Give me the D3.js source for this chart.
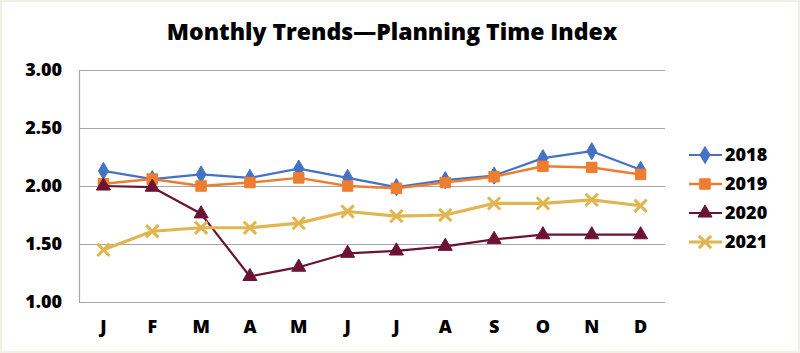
<!DOCTYPE html>
<html>
<head>
<meta charset="utf-8">
<script src="https://cdn.jsdelivr.net/npm/d3@7"></script>
<style>
  body { margin: 0; background: #fff; }
  svg { display: block; font-family: "Open Sans", sans-serif; }
</style>
</head>
<body>
<script>
const months = ["J", "F", "M", "A", "M", "J", "J", "A", "S", "O", "N", "D"];
const years = ["2018", "2019", "2020", "2021"];
const v2018 = [2.13, 2.06, 2.10, 2.07, 2.15, 2.07, 1.99, 2.05, 2.09, 2.24, 2.30, 2.14];
const v2019 = [2.02, 2.06, 2.00, 2.03, 2.07, 2.00, 1.98, 2.03, 2.08, 2.17, 2.16, 2.10];
const v2020 = [2.00, 1.99, 1.76, 1.22, 1.30, 1.42, 1.44, 1.48, 1.54, 1.58, 1.58, 1.58];
const v2021 = [1.45, 1.61, 1.64, 1.64, 1.68, 1.78, 1.74, 1.75, 1.85, 1.85, 1.88, 1.83];
const yTicks = [1.0, 1.5, 2.0, 2.5, 3.0];

const width = 800, height = 353;
const margin = { top: 70, right: 135, bottom: 51, left: 79 };

const series = [
  { name: years[0], values: v2018, color: "#4472c4", width: 2.2, sym: "diamond" },
  { name: years[1], values: v2019, color: "#ed7d31", width: 2.5, sym: "square" },
  { name: years[2], values: v2020, color: "#6b1235", width: 2.2, sym: "triangle" },
  { name: years[3], values: v2021, color: "#e0b650", width: 3.2, sym: "cross" }
];

const svg = d3.select("body").append("svg")
  .attr("width", width)
  .attr("height", height);

// faint page frame like the original
svg.append("rect")
  .attr("x", 0.5).attr("y", 0.5)
  .attr("width", width - 1).attr("height", height - 1)
  .attr("fill", "none").attr("stroke", "#f0f0e4").attr("stroke-width", 3);

svg.append("text")
  .attr("x", 392).attr("y", 40)
  .attr("text-anchor", "middle")
  .attr("font-size", 23).attr("font-weight", 800)
  .text("Monthly Trends\u2014Planning Time Index");

const x = d3.scalePoint()
  .domain(d3.range(months.length))
  .range([margin.left, width - margin.right])
  .padding(0.5);

const y = d3.scaleLinear()
  .domain([1, 3])
  .range([height - margin.bottom, margin.top]);

// gridlines
svg.append("g")
  .selectAll("line")
  .data(yTicks)
  .join("line")
  .attr("x1", margin.left).attr("x2", width - margin.right)
  .attr("y1", d => Math.round(y(d)) + 0.5).attr("y2", d => Math.round(y(d)) + 0.5)
  .attr("stroke", "#a6a6a6").attr("stroke-width", 1.2);

svg.append("line")
  .attr("x1", margin.left + 0.5).attr("x2", margin.left + 0.5)
  .attr("y1", y(3)).attr("y2", y(1))
  .attr("stroke", "#a6a6a6").attr("stroke-width", 1.2);

// y labels
svg.append("g")
  .selectAll("text")
  .data(yTicks)
  .join("text")
  .attr("x", 62).attr("y", d => y(d))
  .attr("dy", "0.35em")
  .attr("text-anchor", "end")
  .attr("font-size", 18).attr("font-weight", 800)
  .text(d => d3.format(".2f")(d));

// x labels
svg.append("g")
  .selectAll("text")
  .data(months)
  .join("text")
  .attr("x", (d, i) => x(i)).attr("y", 327)
  .attr("dy", "0.35em")
  .attr("text-anchor", "middle")
  .attr("font-size", 18).attr("font-weight", 800)
  .text(d => d);

const symbolOf = {
  diamond: d3.symbol().type(d3.symbolDiamond).size(85),
  square: d3.symbol().type(d3.symbolSquare).size(110),
  triangle: d3.symbol().type(d3.symbolTriangle).size(85),
  cross: d3.symbol().type(d3.symbolTimes).size(100)
};

function drawMarker(g, s) {
  const p = g.append("path").attr("d", symbolOf[s.sym]());
  if (s.sym === "cross") {
    p.attr("fill", "none").attr("stroke", s.color).attr("stroke-width", 3);
  } else {
    p.attr("fill", s.color).attr("stroke", s.color).attr("stroke-width", 1);
  }
}

const line = d3.line()
  .x((d, i) => x(i))
  .y(d => y(d));

series.forEach(s => {
  svg.append("path")
    .datum(s.values)
    .attr("d", line)
    .attr("fill", "none")
    .attr("stroke", s.color)
    .attr("stroke-width", s.width)
    .attr("stroke-linejoin", "round");

  s.values.forEach((v, i) => {
    const g = svg.append("g").attr("transform", `translate(${x(i)},${y(v)})`);
    drawMarker(g, s);
  });
});

// legend
const legend = svg.append("g");
series.forEach((s, i) => {
  const ly = 155 + i * 29;
  const g = legend.append("g").attr("transform", `translate(0,${ly})`);
  g.append("line")
    .attr("x1", 689).attr("x2", 722)
    .attr("stroke", s.color).attr("stroke-width", s.width);
  const m = g.append("g").attr("transform", "translate(705,0)");
  drawMarker(m, s);
  g.append("text")
    .attr("x", 725).attr("y", 0)
    .attr("dy", "0.35em")
    .attr("font-size", 18).attr("font-weight", 800)
    .text(s.name);
});
</script>
</body>
</html>
